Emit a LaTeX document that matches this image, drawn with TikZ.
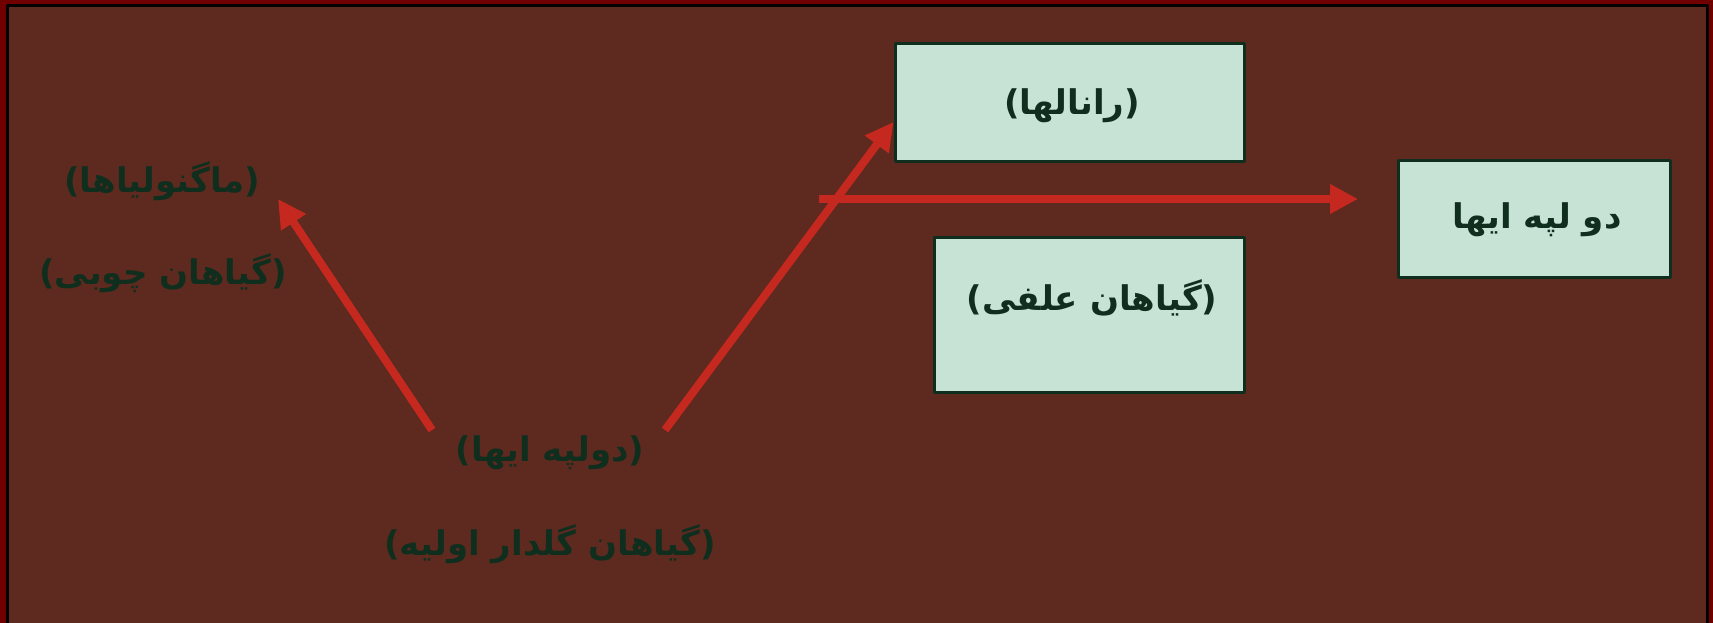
\documentclass[tikz,border=0pt]{standalone}
\usepackage{fontspec}
\newfontfamily\fafont[Script=Arabic]{DejaVu Sans}
\TeXXeTstate=1
\usetikzlibrary{arrows.meta}
\definecolor{frameRed}{RGB}{112,0,0}
\definecolor{bgBrown}{RGB}{94,42,31}
\definecolor{inkGreen}{RGB}{16,46,30}
\definecolor{boxFill}{RGB}{198,227,214}
\definecolor{arrowRed}{RGB}{197,40,30}
\tikzset{
  lbl/.style={text=inkGreen,inner sep=0pt},
  plantbox/.style={draw=inkGreen,line width=3pt,fill=boxFill,text=inkGreen,inner sep=0pt},
  link/.style={draw=arrowRed,line width=8pt,-{Triangle[length=28pt,width=28pt]}}
}
\begin{document}
\begin{tikzpicture}[x=1pt,y=-1pt,line join=round,font=\fafont\bfseries\fontsize{34}{40}\selectfont]
	\useasboundingbox (0,0) rectangle (1713,623);
	\fill[frameRed] (0,0) rectangle (1713,623);
	\draw[line width=3pt,fill=bgBrown] (7.5,5.5) rectangle (1707.5,624);
	% left texts
	\node[lbl] (magn) at (162,181) {\beginR(ماگنولیاها)\endR};
	\node[lbl] (chubi) at (163,273) {\beginR(گیاهان چوبی)\endR};
	\node[lbl] (dolpe) at (550,453) {\beginR(دولپه ایها)\endR};
	\node[lbl] (golder) at (550,544) {\beginR(گیاهان گلدار اولیه)\endR};
	% boxes
	\node[plantbox,minimum width=349pt,minimum height=117pt] (ranal) at (1069.5,102.5) {};
	\node[lbl] (ranaltxt) at (1072,106) {\beginR(رانالها)\endR};
	\node[plantbox,minimum width=310pt,minimum height=155pt] (alfi) at (1089,314.5) {};
	\node[lbl] (alfitxt) at (1092,298) {\beginR(گیاهان علفی)\endR};
	\node[plantbox,minimum width=272pt,minimum height=117pt] (dolpebox) at (1534,218.5) {};
	\node[lbl] (dolpetxt) at (1537,220) {\beginR دو لپه ایها\endR};
	% arrows
	\coordinate (lowL) at (432,430);
	\coordinate (lowR) at (665,430);
	\coordinate (magTip) at (278,199);
	\coordinate (hStart) at (819,199);
	\coordinate (hEnd) at (1358,199);
	\draw[link] (lowL) -- (magTip);
	\draw[link] (lowR) -- ([yshift=-19.5pt]ranal.west);
	\draw[link] (hStart) -- (hEnd);
\end{tikzpicture}
\end{document}
